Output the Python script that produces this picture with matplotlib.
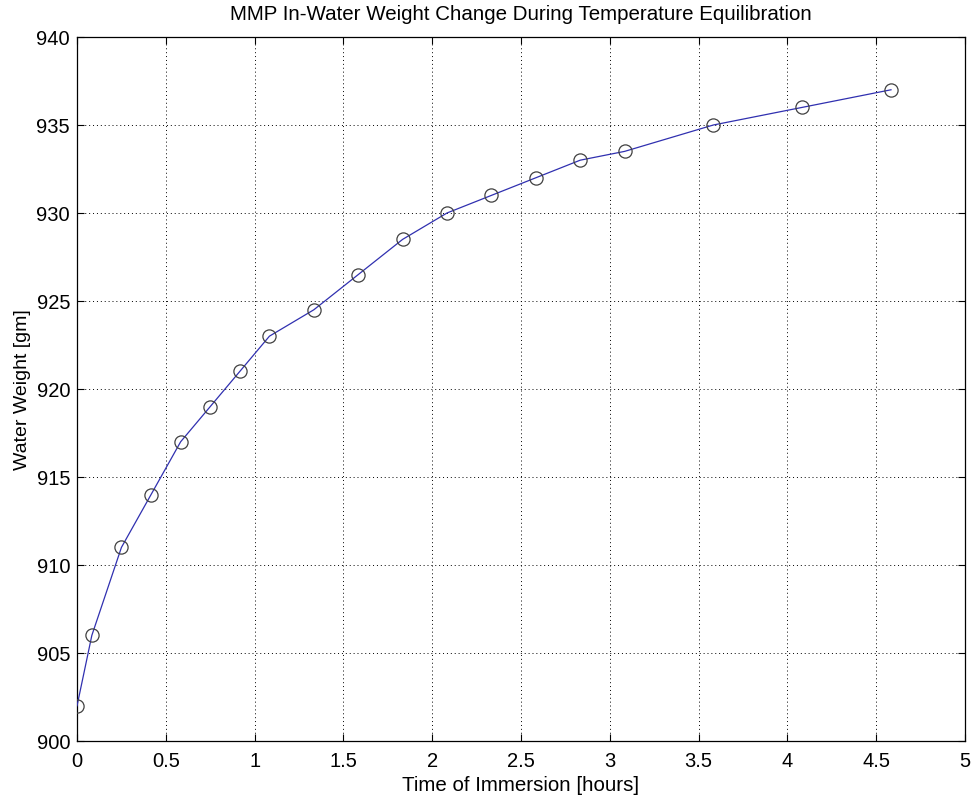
import matplotlib.pyplot as plt

# time of immersion [hours] and in-water weight [gm]
hours = [0, 0.0833, 0.25, 0.4167, 0.5833, 0.75, 0.9167, 1.0833, 1.3333, 1.5833,
         1.8333, 2.0833, 2.3333, 2.5833, 2.8333, 3.0833, 3.5833, 4.0833, 4.5833]
weight = [902, 906, 911, 914, 917, 919, 921, 923, 924.5, 926.5,
          928.5, 930, 931, 932, 933, 933.5, 935, 936, 937]

x_ticks = [0, 0.5, 1, 1.5, 2, 2.5, 3, 3.5, 4, 4.5, 5]
x_tick_labels = ['0', '0.5', '1', '1.5', '2', '2.5', '3', '3.5', '4', '4.5', '5']
y_ticks = [900, 905, 910, 915, 920, 925, 930, 935, 940]

plt.rcParams['font.family'] = ['Liberation Sans', 'DejaVu Sans']

fig = plt.figure(figsize=(9.79, 8.03), dpi=100)
ax = fig.add_axes([0.0787, 0.076, 0.907, 0.8767])

ax.plot(hours, weight, color='#3030b0', linewidth=0.9, zorder=3)
ax.plot(hours, weight, linestyle='none', marker='o', markersize=9.5,
        markerfacecolor='none', markeredgecolor='#404040', markeredgewidth=0.9, zorder=4)

ax.set_xlim(0, 5)
ax.set_ylim(900, 940)
ax.set_xticks(x_ticks)
ax.set_xticklabels(x_tick_labels)
ax.set_yticks(y_ticks)
ax.tick_params(direction='in', top=True, right=True, labelsize=14.5, length=5, width=0.8)
ax.tick_params(axis='x', pad=7)
ax.tick_params(axis='y', pad=5)

ax.grid(True, color='black', linestyle=(0, (1, 3)), linewidth=0.7)
for s in ax.spines.values():
    s.set_linewidth(0.9)

ax.set_title('MMP In-Water Weight Change During Temperature Equilibration', fontsize=14.8, pad=13)
ax.set_xlabel('Time of Immersion [hours]', fontsize=14.8, labelpad=4)
ax.set_ylabel('Water Weight [gm]', fontsize=14, labelpad=4)

fig.savefig('out.png', dpi=100)
